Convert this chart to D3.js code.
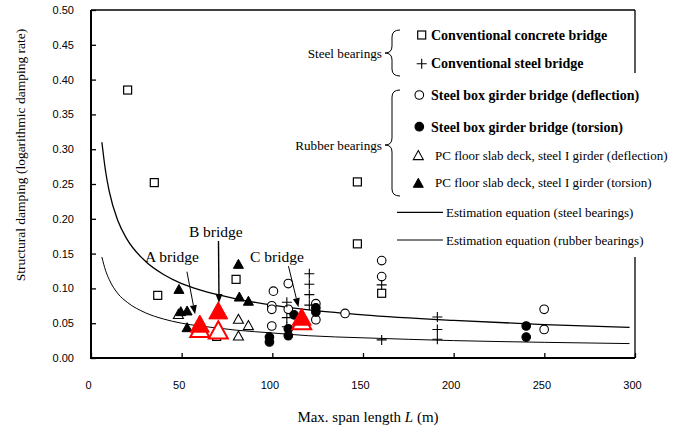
<!DOCTYPE html>
<html><head><meta charset="utf-8">
<script src="https://d3js.org/d3.v7.min.js"></script>
<style>body{margin:0;background:#fff}svg{display:block}</style>
</head><body>
<svg id="c" width="676" height="434"></svg>
<script>
// ---- data ----
const xTicks = [0, 50, 100, 150, 200, 250, 300];
const yTicks = [0, 0.05, 0.10, 0.15, 0.20, 0.25, 0.30, 0.35, 0.40, 0.45, 0.50];

const concreteL = [20.2, 34.9, 36.8, 69.3, 80.0, 146.9, 146.9, 160.3];
const concreteD = [0.385, 0.252, 0.090, 0.031, 0.113, 0.253, 0.164, 0.093];

const steelL = [108, 108, 108, 120.4, 120.4, 120.4, 120.4, 160.3, 160.3, 191, 191, 191];
const steelD = [0.080, 0.058, 0.045, 0.121, 0.106, 0.091, 0.076, 0.105, 0.026, 0.059, 0.041, 0.027];

const boxDefL = [100.6, 108.8, 99.7, 99.7, 99.7, 108.8, 124, 124, 140.1, 160.3, 160.3, 249.9, 249.9];
const boxDefD = [0.096, 0.107, 0.075, 0.070, 0.046, 0.070, 0.078, 0.055, 0.064, 0.140, 0.117, 0.070, 0.041];

const boxTorL = [98.4, 98.4, 108.8, 108.8, 112, 124, 124, 240, 240];
const boxTorD = [0.030, 0.023, 0.042, 0.032, 0.062, 0.072, 0.066, 0.046, 0.030];

const pcDefL = [48.2, 81.3, 86.8, 81.3];
const pcDefD = [0.062, 0.055, 0.046, 0.031];

const pcTorL = [48.5, 49.5, 53, 53, 81.3, 81.8, 86.8];
const pcTorD = [0.098, 0.066, 0.067, 0.043, 0.134, 0.087, 0.081];

const bridgeNames = ["A bridge", "B bridge", "C bridge"];
const bridgeL = [60, 70.2, 116.2];
const bridgeTorD = [0.047, 0.066, 0.057];
const bridgeDefD = [0.040, 0.038, 0.051];

const estL = [6, 8, 10, 15, 20, 30, 40, 50, 60, 70, 80, 100, 120, 150, 200, 250, 297];
const steelEst = [0.310, 0.269, 0.240, 0.196, 0.170, 0.139, 0.120, 0.107, 0.098, 0.091, 0.085, 0.076, 0.069, 0.062, 0.054, 0.048, 0.044];
const rubberEst = [0.145, 0.126, 0.113, 0.092, 0.080, 0.065, 0.056, 0.050, 0.046, 0.043, 0.040, 0.036, 0.032, 0.029, 0.025, 0.0225, 0.0207];

// label anchors and arrows in data units
const labelL = [29.8, 54.0, 87.7];
const labelD = [0.138, 0.174, 0.138];
const arrowFromL = [52.9, 70.3, 108.9];
const arrowFromD = [0.124, 0.168, 0.132];
const arrowToL = [57.4, 70.6, 114.4];
const arrowToD = [0.063, 0.079, 0.073];

// ---- drawing ----
const svg = d3.select("#c");
const X0 = 91, X1 = 635, Y0 = 358, Y1 = 10;
const x = d3.scaleLinear().domain([0, 300]).range([X0, X1]);
const y = d3.scaleLinear().domain([0, 0.5]).range([Y0, Y1]);
const serif = "'Liberation Serif','Times New Roman',serif";
const sans = "'Liberation Sans',Arial,sans-serif";

// axes
const gx = svg.append("g").attr("transform", `translate(0,${Y0})`)
  .call(d3.axisBottom(x).tickValues(xTicks).tickSize(-5).tickPadding(23).tickFormat(d3.format("d")));
const gy = svg.append("g").attr("transform", `translate(${X0},0)`)
  .call(d3.axisLeft(y).tickValues(yTicks).tickSize(-5).tickPadding(17).tickFormat(d3.format(".2f")));
[gx, gy].forEach(g => {
  g.select(".domain").remove();
  g.selectAll(".tick line").attr("stroke", "#000").attr("stroke-width", 1.3);
  g.selectAll(".tick text").attr("font-family", sans).attr("font-size", 11).attr("fill", "#000");
});
gx.selectAll(".tick text").attr("dx", -3);

// frame
const frame = svg.append("g").attr("stroke", "#000").attr("fill", "none");
frame.append("line").attr("x1", X0).attr("x2", X0).attr("y1", Y1).attr("y2", Y0).attr("stroke-width", 2);
frame.append("line").attr("x1", X0 - 1).attr("x2", X1).attr("y1", Y0).attr("y2", Y0).attr("stroke-width", 2);
frame.append("line").attr("x1", X0).attr("x2", X1).attr("y1", Y1).attr("y2", Y1).attr("stroke-width", 1.3);
frame.append("line").attr("x1", X1).attr("x2", X1).attr("y1", Y1).attr("y2", 73).attr("stroke-width", 1.3);
frame.append("line").attr("x1", X1).attr("x2", X1).attr("y1", 257).attr("y2", Y0).attr("stroke-width", 1.3);

// estimation curves
const line = d3.line().x(d => x(d[0])).y(d => y(d[1])).curve(d3.curveMonotoneX);
svg.append("path").datum(estL.map((l, i) => [l, steelEst[i]])).attr("d", line)
  .attr("fill", "none").attr("stroke", "#000").attr("stroke-width", 1.3);
svg.append("path").datum(estL.map((l, i) => [l, rubberEst[i]])).attr("d", line)
  .attr("fill", "none").attr("stroke", "#000").attr("stroke-width", 1);

// marker helpers
function tri(g, cx, cy, s, fill, stroke, sw) {
  const h = s * 0.9;
  g.append("path").attr("d", `M${cx},${cy - h * 0.6}L${cx + s / 2},${cy + h * 0.4}L${cx - s / 2},${cy + h * 0.4}Z`)
    .attr("fill", fill).attr("stroke", stroke).attr("stroke-width", sw);
}
function square(g, cx, cy) {
  g.append("rect").attr("x", cx - 4).attr("y", cy - 4).attr("width", 8).attr("height", 8)
    .attr("fill", "#fff").attr("stroke", "#000").attr("stroke-width", 1.2);
}
function plus(g, cx, cy) {
  g.append("path").attr("d", `M${cx - 5},${cy}H${cx + 5}M${cx},${cy - 5}V${cy + 5}`)
    .attr("stroke", "#000").attr("stroke-width", 1.1).attr("fill", "none");
}
function circ(g, cx, cy, filled) {
  g.append("circle").attr("cx", cx).attr("cy", cy).attr("r", 4.3)
    .attr("fill", filled ? "#000" : "#fff").attr("stroke", "#000").attr("stroke-width", 1.1);
}

const pts = svg.append("g");
concreteL.forEach((l, i) => square(pts, x(l), y(concreteD[i])));
pcDefL.forEach((l, i) => tri(pts, x(l), y(pcDefD[i]), 10, "#fff", "#000", 1.1));
pcTorL.forEach((l, i) => tri(pts, x(l), y(pcTorD[i]), 10, "#000", "#000", 1));
boxDefL.forEach((l, i) => circ(pts, x(l), y(boxDefD[i]), false));
boxTorL.forEach((l, i) => circ(pts, x(l), y(boxTorD[i]), true));
steelL.forEach((l, i) => plus(pts, x(l), y(steelD[i])));

// highlighted bridges
bridgeL.forEach((l, i) => {
  tri(pts, x(l), y(bridgeDefD[i]), 19, "#fff", "#f00", 2);
  tri(pts, x(l), y(bridgeTorD[i]), 19, "#f00", "#f00", 1);
});

// annotations
const ann = svg.append("g");
bridgeNames.forEach((n, i) => {
  ann.append("text").attr("x", x(labelL[i])).attr("y", y(labelD[i])).text(n)
    .attr("font-family", serif).attr("font-size", 15.5).attr("fill", "#000");
  const x1 = x(arrowFromL[i]), y1 = y(arrowFromD[i]), x2 = x(arrowToL[i]), y2 = y(arrowToD[i]);
  const ang = Math.atan2(y2 - y1, x2 - x1), len = 9, wid = 3.5;
  const bx = x2 - len * Math.cos(ang), by = y2 - len * Math.sin(ang);
  ann.append("line").attr("x1", x1).attr("y1", y1).attr("x2", bx).attr("y2", by)
    .attr("stroke", "#000").attr("stroke-width", i === 1 ? 1.4 : 1);
  ann.append("path").attr("d",
    `M${x2},${y2}L${bx + wid * Math.sin(ang)},${by - wid * Math.cos(ang)}L${bx - wid * Math.sin(ang)},${by + wid * Math.cos(ang)}Z`)
    .attr("fill", "#000");
});

// legend
const lg = svg.append("g");
function brace(y0, y1, ym) {
  const xe = 400, xs = 392, xt = 385, r = 7;
  return `M${xe},${y0}Q${xs},${y0} ${xs},${y0 + r}L${xs},${ym - r}Q${xs},${ym} ${xt},${ym}` +
    `Q${xs},${ym} ${xs},${ym + r}L${xs},${y1 - r}Q${xs},${y1} ${xe},${y1}`;
}
lg.append("path").attr("d", brace(30, 76, 53)).attr("fill", "none").attr("stroke", "#000").attr("stroke-width", 1);
lg.append("path").attr("d", brace(90, 196, 145)).attr("fill", "none").attr("stroke", "#000").attr("stroke-width", 1);
lg.append("text").attr("x", 382).attr("y", 53).attr("dy", "0.35em").attr("text-anchor", "end")
  .attr("font-family", serif).attr("font-size", 13.2).text("Steel bearings");
lg.append("text").attr("x", 382).attr("y", 145).attr("dy", "0.35em").attr("text-anchor", "end")
  .attr("font-family", serif).attr("font-size", 13.2).text("Rubber bearings");

const legendItems = [
  {t: "Conventional concrete bridge", y: 35, bold: true, m: (g, cy) => square(g, 421.7, cy)},
  {t: "Conventional steel bridge", y: 62.7, bold: true, m: (g, cy) => plus(g, 421.7, cy + 1)},
  {t: "Steel box girder bridge (deflection)", y: 95, bold: true, m: (g, cy) => circ(g, 419.3, cy, false)},
  {t: "Steel box girder bridge (torsion)", y: 126.7, bold: true, m: (g, cy) => circ(g, 419.3, cy, true)},
  {t: "PC floor slab deck, steel I girder (deflection)", y: 155, bold: false, m: (g, cy) => tri(g, 418.3, cy + 1, 10, "#fff", "#000", 1.1)},
  {t: "PC floor slab deck, steel I girder (torsion)", y: 182.7, bold: false, m: (g, cy) => tri(g, 418.3, cy + 1, 10, "#000", "#000", 1)}
];
legendItems.forEach(it => {
  it.m(lg, it.y);
  lg.append("text").attr("x", it.bold ? 431 : 435).attr("y", it.y).attr("dy", "0.35em")
    .attr("font-family", serif).attr("font-size", it.bold ? 14 : 13)
    .attr("font-weight", it.bold ? "bold" : "normal").text(it.t);
});
[["Estimation equation (steel bearings)", 212.3, 1.3], ["Estimation equation (rubber bearings)", 240, 1]].forEach(([t, yy, sw]) => {
  lg.append("line").attr("x1", 397).attr("x2", 443).attr("y1", yy).attr("y2", yy).attr("stroke", "#000").attr("stroke-width", sw);
  lg.append("text").attr("x", 446).attr("y", yy).attr("dy", "0.35em")
    .attr("font-family", serif).attr("font-size", 13).text(t);
});

// axis titles
const xt = svg.append("text").attr("x", 368).attr("y", 417).attr("dy", "0.35em").attr("text-anchor", "middle")
  .attr("font-family", serif).attr("font-size", 15);
xt.append("tspan").text("Max. span length ");
xt.append("tspan").attr("font-style", "italic").text("L");
xt.append("tspan").text(" (m)");
svg.append("text").attr("transform", "translate(20,155) rotate(-90)").attr("dy", "0.35em").attr("text-anchor", "middle")
  .attr("font-family", serif).attr("font-size", 13.5).text("Structural damping (logarithmic damping rate)");
</script>
</body></html>
